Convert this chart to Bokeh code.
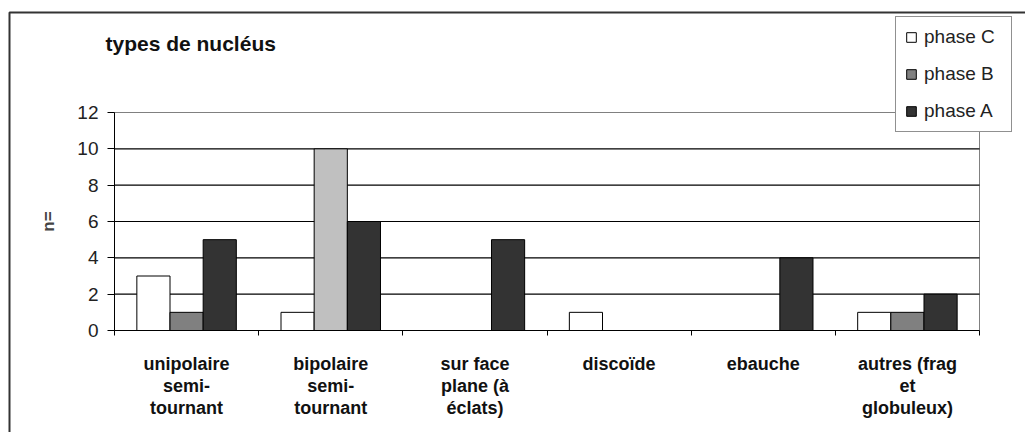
from bokeh.plotting import figure
from bokeh.models import (Range1d, FixedTicker, ColumnDataSource, Legend, LegendItem,
                          Label, BoxAnnotation, LinearAxis)
from bokeh.transform import dodge
from bokeh.embed import file_html
from bokeh.resources import INLINE

# ---- data ----
categories = ["unipolaire\nsemi-\ntournant", "bipolaire\nsemi-\ntournant",
              "sur face\nplane (à\néclats)", "discoïde", "ebauche",
              "autres (frag\net\nglobuleux)"]
phase_c = [3, 1, 0, 1, 0, 1]
phase_b = [1, 10, 0, 0, 0, 1]
phase_a = [5, 6, 5, 0, 4, 2]
phase_b_colors = ["#808080", "#C0C0C0", "#808080", "#808080", "#808080", "#808080"]
series_names = ["phase C", "phase B", "phase A"]
y_ticks = [0, 2, 4, 6, 8, 10, 12]
title_text = "types de nucléus"
y_label = "n="

FONT = "Liberation Sans"

# ---- layout (pixels, canvas coordinates) ----
W, H = 1025, 432
PA_L, PA_R = 114, 979            # plot-area left/right
PA_T, PA_B = 112, 330            # plot-area top/bottom
ncat = len(categories)
ymax = y_ticks[-1]
sx = (PA_R - PA_L) / ncat
sy = (PA_B - PA_T) / ymax
x_start, x_end = -PA_L / sx, (W - PA_L) / sx
y_start, y_end = -(H - PA_B) / sy, PA_B / sy

p = figure(width=W, height=H, output_backend="svg", toolbar_location=None,
           x_range=Range1d(x_start, x_end), y_range=Range1d(y_start, y_end),
           x_axis_location=None, y_axis_location=None,
           min_border_left=0, min_border_right=0, min_border_top=0, min_border_bottom=0)
p.background_fill_color = "white"
p.border_fill_color = "white"
p.outline_line_color = None
p.xgrid.visible = False
p.ygrid.visible = False

# plot-area border (grey, top/right visible) and horizontal gridlines
p.quad(left=[0], right=[ncat], bottom=[0], top=[ymax], fill_color=None,
       line_color="#808080", line_width=1)
grid_vals = [t for t in y_ticks if 0 < t < ymax]
p.segment(x0=[0] * len(grid_vals), x1=[ncat] * len(grid_vals), y0=grid_vals, y1=grid_vals,
          line_color="black", line_width=1.2)

centers = [i + 0.5 for i in range(ncat)]
bw = 0.23
src = ColumnDataSource(dict(x=centers, c=phase_c, b=phase_b, a=phase_a, bcol=phase_b_colors))

rc = p.vbar(x=dodge("x", -bw, range=p.x_range), top="c", width=bw, source=src,
            fill_color="#FFFFFF", line_color="black", line_width=1)
rb = p.vbar(x=dodge("x", 0, range=p.x_range), top="b", width=bw, source=src,
            fill_color="bcol", line_color="black", line_width=1)
ra = p.vbar(x=dodge("x", bw, range=p.x_range), top="a", width=bw, source=src,
            fill_color="#333333", line_color="black", line_width=1)

# x axis
xa = LinearAxis(fixed_location=0, bounds=(0, ncat))
xa.ticker = FixedTicker(ticks=centers, minor_ticks=list(range(ncat + 1)))
xa.major_label_overrides = {c: lab for c, lab in zip(centers, categories)}
xa.major_tick_line_color = None
xa.major_tick_out = 0
xa.major_tick_in = 0
xa.minor_tick_line_color = "black"
xa.minor_tick_out = 5
xa.minor_tick_in = 0
xa.axis_line_color = "black"
xa.major_label_standoff = 18
xa.major_label_text_font = FONT
xa.major_label_text_font_style = "bold"
xa.major_label_text_font_size = "18px"
xa.major_label_text_color = "#111111"
xa.major_label_text_line_height = 1.1
p.add_layout(xa, "below")

# y axis
ya = LinearAxis(fixed_location=0, bounds=(0, ymax))
ya.ticker = FixedTicker(ticks=y_ticks)
ya.minor_tick_line_color = None
ya.major_tick_out = 7
ya.major_tick_in = 0
ya.major_tick_line_color = "black"
ya.axis_line_color = "black"
ya.major_label_standoff = 9
ya.major_label_text_font = FONT
ya.major_label_text_font_size = "19px"
ya.major_label_text_color = "#222222"
ya.axis_label = y_label
ya.axis_label_text_font = FONT
ya.axis_label_text_font_style = "bold"
ya.axis_label_text_font_size = "17px"
ya.axis_label_standoff = 16
p.add_layout(ya, "left")

# legend
legend = Legend(items=[LegendItem(label=series_names[0], renderers=[rc]),
                       LegendItem(label=series_names[1], renderers=[rb]),
                       LegendItem(label=series_names[2], renderers=[ra])],
                location=(895, H - 132))
legend.border_line_color = "#222222"
legend.border_line_width = 1
legend.background_fill_color = "white"
legend.background_fill_alpha = 1
legend.padding = 9
legend.spacing = 15
legend.margin = 0
legend.glyph_width = 12
legend.glyph_height = 12
legend.label_standoff = 7
legend.label_width = 78
legend.label_height = 20
legend.label_text_font = FONT
legend.label_text_font_size = "19px"
legend.label_text_color = "#222222"
p.add_layout(legend)

# title
title = Label(x=105, y=H - 43, x_units="screen", y_units="screen", text=title_text,
              text_font=FONT, text_font_style="bold", text_font_size="21px",
              text_color="#111111", text_baseline="alphabetic")
p.add_layout(title)

# outer chart border (only left and top edges fall inside the window)
border = BoxAnnotation(left=9, right=5000, top=H - 12, bottom=-5000,
                       left_units="screen", right_units="screen",
                       top_units="screen", bottom_units="screen",
                       fill_alpha=0, line_color="#333333", line_alpha=1, line_width=2)
p.add_layout(border)

open("out.html", "w").write(file_html(p, INLINE))
